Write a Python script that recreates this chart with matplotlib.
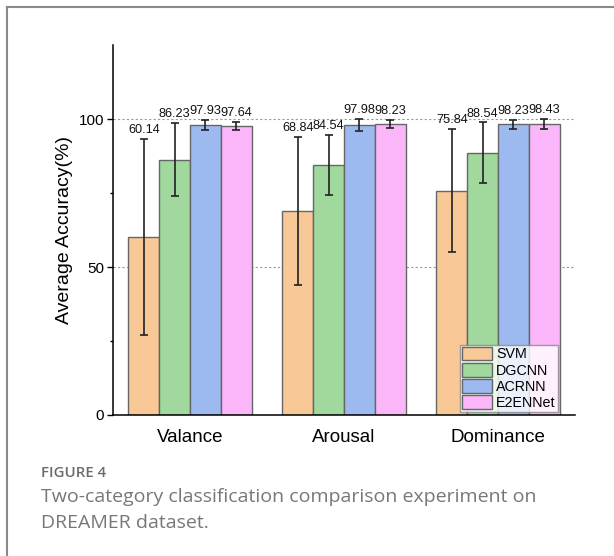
import matplotlib
matplotlib.use("Agg")
import matplotlib.pyplot as plt
import numpy as np
from matplotlib.lines import Line2D

categories = ["Valance", "Arousal", "Dominance"]
methods = ["SVM", "DGCNN", "ACRNN", "E2ENNet"]
svm = [60.14, 68.84, 75.84]
dgcnn = [86.23, 84.54, 88.54]
acrnn = [97.93, 97.98, 98.23]
e2ennet = [97.64, 98.23, 98.43]
svm_err = [33.2, 25.0, 20.8]
dgcnn_err = [12.3, 10.2, 10.3]
acrnn_err = [1.7, 2.0, 1.5]
e2ennet_err = [1.4, 1.4, 1.7]
colors = ["#F9C897", "#A0D89D", "#9DBAF0", "#FBB6F9"]

values = [svm, dgcnn, acrnn, e2ennet]
errors = [svm_err, dgcnn_err, acrnn_err, e2ennet_err]

plt.rcParams["font.family"] = ["Liberation Sans", "DejaVu Sans"]

fig = plt.figure(figsize=(6.14, 5.56), dpi=100)
ax = fig.add_axes([0.184, 0.2536, 0.7525, 0.6654])

x = np.arange(len(categories))
w = 0.2
for i, (m, v, e, c) in enumerate(zip(methods, values, errors, colors)):
    pos = x + (i - 1.5) * w
    ax.bar(pos, v, width=w, color=c, edgecolor="#666666", linewidth=1.0,
           label=m, zorder=2)
    ax.errorbar(pos, v, yerr=e, fmt="none", ecolor="#222222",
                elinewidth=1.2, capsize=3, capthick=1.2, zorder=3)
    for p, vv, ee in zip(pos, v, e):
        ax.text(p, vv + ee + 1.0, f"{vv:.2f}", ha="center", va="bottom",
                fontsize=9.2, color="#111111", zorder=4)

ax.set_xlim(-0.5, 2.5)
ax.set_ylim(0, 125)
ax.set_yticks([0, 50, 100])
ax.set_yticks([25, 75], minor=True)
ax.set_xticks(x)
ax.set_xticklabels(categories, fontsize=13.5)
ax.tick_params(axis="x", length=0, pad=10)
ax.tick_params(axis="y", which="major", length=4.5, width=1, labelsize=11, direction="out", pad=2)
ax.tick_params(axis="y", which="minor", length=2.5, width=1, direction="out")
for yy in [50, 100]:
    ax.axhline(yy, color="#999999", linestyle=(0, (2, 2)), linewidth=0.8, zorder=1)
ax.spines["top"].set_visible(False)
ax.spines["right"].set_visible(False)
ax.spines["left"].set_linewidth(1.1)
ax.spines["bottom"].set_linewidth(1.1)
ax.set_ylabel("Average Accuracy(%)", fontsize=14, labelpad=4)

leg = ax.legend(loc="lower right", bbox_to_anchor=(0.963, 0.008), fontsize=10.3,
                frameon=True, fancybox=False, edgecolor="#888888",
                handlelength=2.1, handleheight=1.1, labelspacing=0.1,
                handletextpad=0.3, borderpad=0.15, borderaxespad=0.0)
leg.get_frame().set_linewidth(1.0)

# outer frame lines (left and top)
fig.add_artist(Line2D([7/614, 7/614], [0, 1 - 7/556], color="#8a8a8a", linewidth=1.5,
                      transform=fig.transFigure))
fig.add_artist(Line2D([7/614, 1], [1 - 7/556, 1 - 7/556], color="#8a8a8a", linewidth=1.5,
                      transform=fig.transFigure))

fig.text(41/614, 1 - 473/556, "FIGURE 4", fontsize=10.8, color="#6b6b6b",
         family=["Open Sans", "DejaVu Sans"], fontweight="semibold", va="center")
fig.text(41/614, 1 - 497/556, "Two-category classification comparison experiment on",
         fontsize=14, color="#777777", family=["Open Sans", "DejaVu Sans"], va="center")
fig.text(41/614, 1 - 523/556, "DREAMER dataset.",
         fontsize=14, color="#777777", family=["Open Sans", "DejaVu Sans"], va="center")

fig.savefig("out.png", dpi=100)
